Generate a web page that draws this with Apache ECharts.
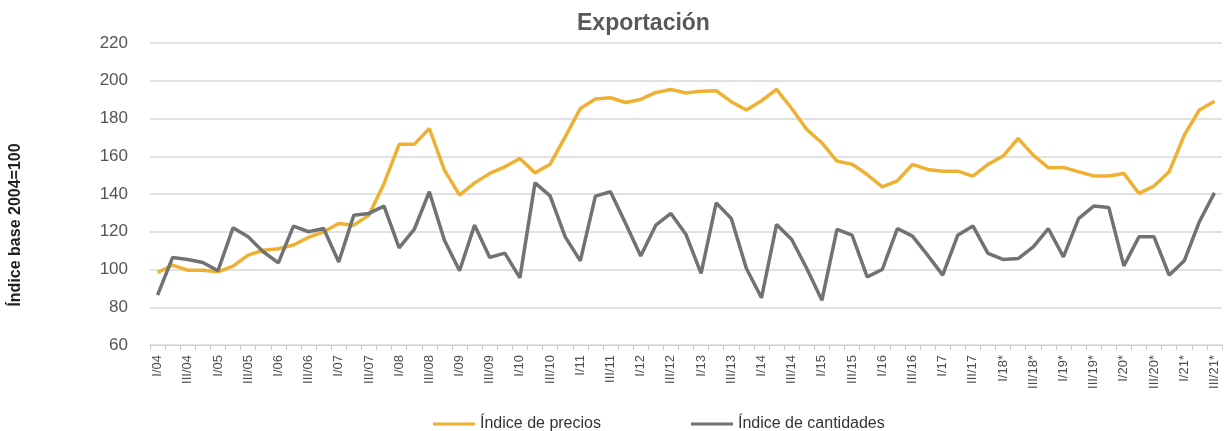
<!DOCTYPE html>
<html>
<head>
<meta charset="utf-8">
<style>
  html, body { margin: 0; padding: 0; background: #fff; }
  #main { width: 1224px; height: 431px; }
</style>
<script src="https://cdn.jsdelivr.net/npm/echarts@6/dist/echarts.min.js"></script>
</head>
<body>
<div id="main"></div>
<script type="text/javascript">
// trimestres I/04 .. III/21
var quarters = [];
var romans = ['I', 'II', 'III', 'IV'];
for (var y = 4; y <= 21; y++) {
    for (var q = 0; q < 4; q++) {
        if (y == 21 && q > 2) break;
        var yy = (y < 10 ? '0' : '') + y;
        quarters.push(romans[q] + '/' + yy + (y >= 18 ? '*' : ''));
    }
}

var precios = [
    98.4, 102.3, 99.6, 99.6, 98.8, 101.8, 107.6, 110.2, 111, 113, 117, 120,
    124.4, 123.5, 128.8, 145.6, 166.3, 166.3, 174.7, 152.6, 139.4, 145.9, 150.9, 154.4,
    158.8, 151.2, 155.8, 170.3, 185.3, 190.3, 191, 188.5, 190.1, 193.8, 195.4, 193.5,
    194.5, 194.7, 188.9, 184.5, 189.4, 195.4, 185.3, 174.2, 167.1, 157.4, 155.8, 150.3,
    143.8, 147, 155.7, 153, 152.1, 152.1, 149.5, 155.7, 160.1, 169.4, 160.6, 153.9,
    154.1, 151.8, 149.6, 149.5, 150.9, 140.3, 144.2, 151.8, 171.2, 184.5, 189.2
];

var cantidades = [
    86.4, 106.4, 105.3, 103.7, 99.3, 122.1, 117.3, 109.4, 103.5, 123, 120, 121.7,
    104, 128.8, 129.7, 133.6, 111.5, 121.2, 141.2, 115.5, 99.3, 123.5, 106.4, 108.7,
    95.6, 145.9, 139, 117.3, 104.6, 138.9, 141.2, 124.4, 107.1, 123.5, 129.7, 118.5,
    97.9, 135.3, 127, 100.5, 85, 123.9, 115.9, 100.5, 83.7, 121.2, 118.2, 96.1,
    100, 121.7, 117.7, 107.6, 97, 118.2, 123.1, 108.5, 105.3, 105.8, 112, 121.6,
    106.7, 127, 133.6, 132.9, 101.9, 117.3, 117.3, 97, 104.6, 125.3, 140.6
];

var fuente = '"Liberation Sans", Arial, sans-serif';

var myChart = echarts.init(document.getElementById('main'));

var option = {
    animation: false,
    textStyle: { fontFamily: fuente },
    title: {
        text: 'Exportación',
        left: 572,
        top: 7,
        textStyle: { fontSize: 23, fontWeight: 'bold', color: '#595959', fontFamily: fuente }
    },
    // titulo del eje Y, algo mas abajo que el centro del eje
    graphic: [{
        type: 'text',
        x: 16,
        y: 225,
        rotation: Math.PI / 2,
        style: {
            text: 'Índice base 2004=100',
            font: 'bold 16px ' + fuente,
            fill: '#222',
            align: 'center',
            verticalAlign: 'middle'
        }
    }],
    legend: {
        left: 428,
        top: 411,
        itemWidth: 42,
        itemHeight: 3,
        itemGap: 90,
        icon: 'rect',
        textStyle: { fontSize: 16, color: '#333', fontFamily: fuente },
        data: ['Índice de precios', 'Índice de cantidades']
    },
    grid: {
        left: 150,
        right: 2,
        top: 43,
        bottom: 86
    },
    xAxis: {
        type: 'category',
        data: quarters,
        boundaryGap: true,
        axisLine: { lineStyle: { color: '#d0d0d0', width: 1 } },
        axisTick: { show: true, interval: 0, length: 5, lineStyle: { color: '#c8c8c8' } },
        axisLabel: {
            interval: 1,
            rotate: 90,
            fontSize: 13,
            color: '#4d4d4d',
            margin: 10,
            fontFamily: fuente
        }
    },
    yAxis: {
        type: 'value',
        min: 60,
        max: 220,
        interval: 20,
        axisLine: { show: false },
        axisTick: { show: false },
        axisLabel: { fontSize: 17, color: '#555', margin: 22, fontFamily: fuente },
        splitLine: { lineStyle: { color: '#d9d9d9', width: 1.5 } }
    },
    series: [
        {
            name: 'Índice de precios',
            type: 'line',
            data: precios,
            symbol: 'none',
            itemStyle: { color: '#EEB133' },
            lineStyle: { color: '#EEB133', width: 3.5 }
        },
        {
            name: 'Índice de cantidades',
            type: 'line',
            data: cantidades,
            symbol: 'none',
            itemStyle: { color: '#707274' },
            lineStyle: { color: '#707274', width: 3.5 }
        }
    ]
};

myChart.setOption(option);
</script>
</body>
</html>
